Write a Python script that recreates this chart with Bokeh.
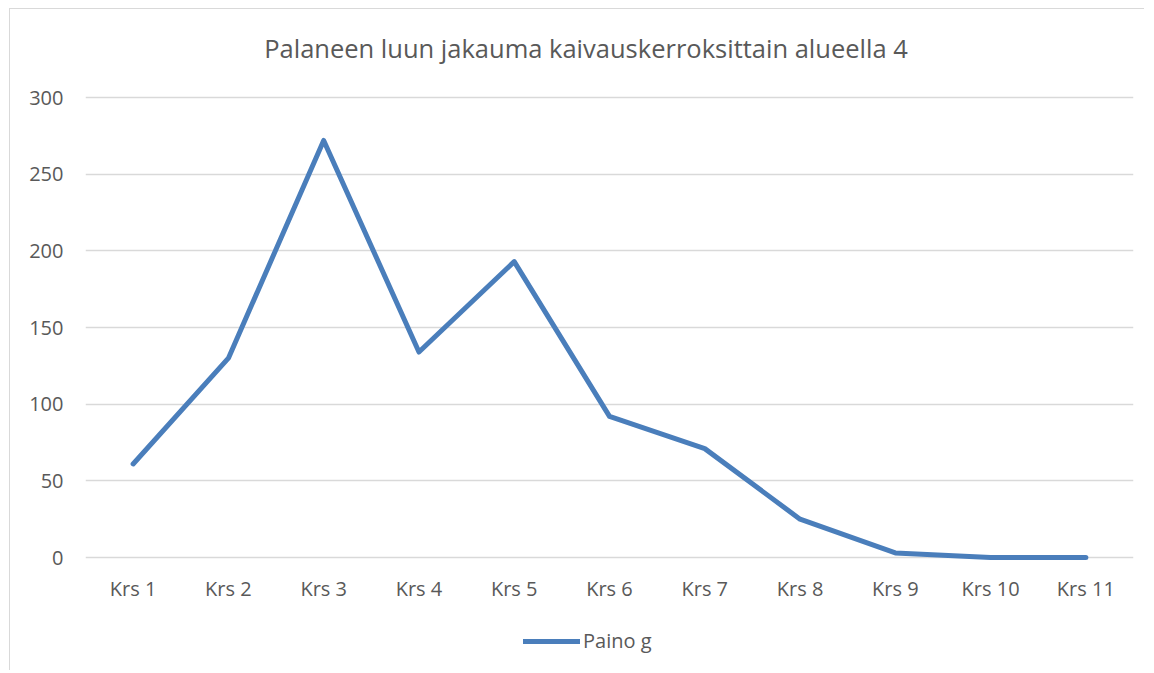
from bokeh.plotting import figure
from bokeh.models import Range1d, FactorRange, Legend, LegendItem, FixedTicker, ColumnDataSource, Label
from bokeh.embed import file_html
from bokeh.resources import INLINE

categories = ["Krs 1", "Krs 2", "Krs 3", "Krs 4", "Krs 5", "Krs 6", "Krs 7", "Krs 8", "Krs 9", "Krs 10", "Krs 11"]
paino_g = [61, 130, 272, 134, 193, 92, 71, 25, 3, 0, 0]
y_ticks = [0, 50, 100, 150, 200, 250, 300]
title_text = "Palaneen luun jakauma kaivauskerroksittain alueella 4"
series_name = "Paino g"

FONT = "Open Sans"
TXT = "#595959"

# plot area: 460 px for 0..300; frame extended above (title) and below (legend)
PX_PER_UNIT = 460 / 300
Y_MAX = 300 + 88 / PX_PER_UNIT
Y_MIN = -113 / PX_PER_UNIT

p = figure(frame_width=1048, frame_height=661, x_range=FactorRange(*categories), y_range=Range1d(Y_MIN, Y_MAX),
           output_backend="svg", toolbar_location=None,
           min_border_left=75, min_border_right=11, min_border_top=0, min_border_bottom=0)
p.styles = {"border-left": "1px solid #d9d9d9", "border-top": "1px solid #d9d9d9",
            "margin-left": "9px", "margin-top": "8px"}

src = ColumnDataSource(dict(x=categories, y=paino_g))
r = p.line("x", "y", source=src, line_color="#4A7EBB", line_width=5, line_join="round", line_cap="round")

# chart title, centred over the whole chart area
p.add_layout(Label(x=500.5 / (1048 / 11), y=300 + 50 / PX_PER_UNIT, text=title_text,
                   text_align="center", text_baseline="middle",
                   text_font=FONT, text_font_size="25.5px", text_color=TXT))

p.outline_line_color = None
p.background_fill_color = "white"
p.border_fill_color = "white"

p.yaxis.ticker = FixedTicker(ticks=y_ticks)
p.ygrid.ticker = FixedTicker(ticks=y_ticks)
p.xaxis.fixed_location = 0
for ax in (p.xaxis, p.yaxis):
    ax.axis_line_color = None
    ax.major_tick_line_color = None
    ax.minor_tick_line_color = None
    ax.major_label_text_font = FONT
    ax.major_label_text_font_size = "20px"
    ax.major_label_text_color = TXT
p.yaxis.major_label_standoff = 16
p.xaxis.major_label_standoff = 11
p.xgrid.grid_line_color = None
p.ygrid.grid_line_color = "#d9d9d9"
p.ygrid.grid_line_width = 1.5

legend = Legend(items=[LegendItem(label=series_name, renderers=[r])], orientation="horizontal",
                location=(438, 16), border_line_color=None, background_fill_alpha=0,
                label_text_font=FONT, label_text_font_size="20px", label_text_color=TXT,
                glyph_width=57, label_standoff=3, padding=0, margin=0)
p.add_layout(legend, "center")

open("out.html", "w").write(file_html(p, INLINE))
